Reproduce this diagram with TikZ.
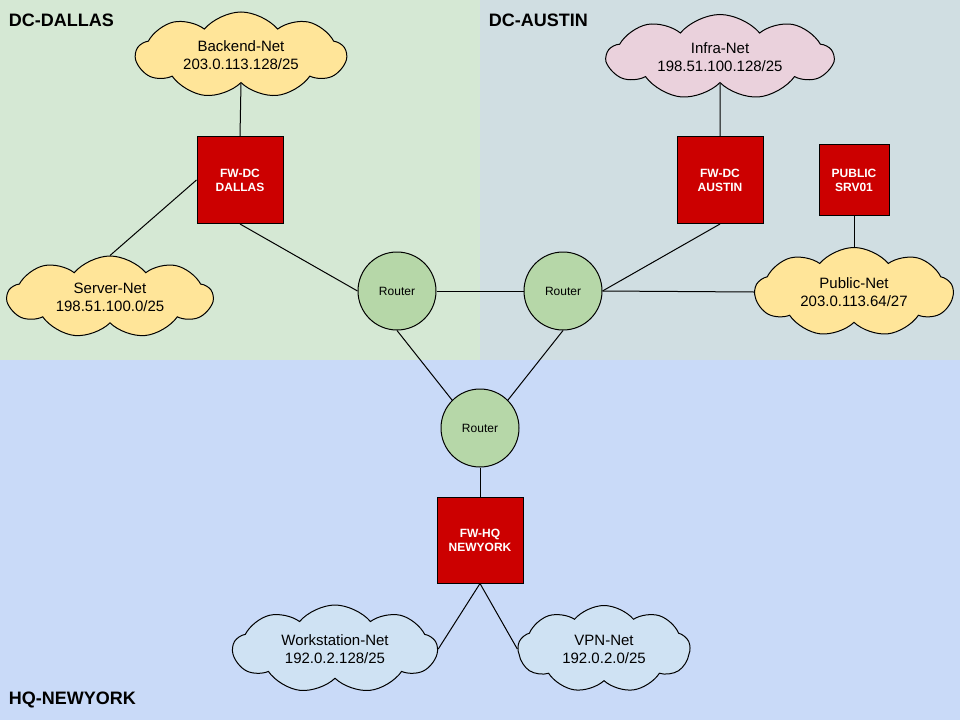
\documentclass[tikz,border=0pt]{standalone}
\usepackage{fontspec}
\setmainfont{Liberation Sans}
\usetikzlibrary{shapes.symbols}
\definecolor{dallasbg}{HTML}{D5E8D4}
\definecolor{austinbg}{HTML}{D0DEE2}
\definecolor{hqbg}{HTML}{C9DAF8}
\definecolor{netyellow}{HTML}{FFE599}
\definecolor{netpink}{HTML}{EAD1DC}
\definecolor{netblue}{HTML}{CFE2F3}
\definecolor{rtrgreen}{HTML}{B6D7A8}
\definecolor{fwred}{HTML}{CC0000}

\begin{document}
\begin{tikzpicture}[x=1pt, y=-1pt, line width=1pt,
    site/.style={font=\fontsize{18}{20}\selectfont\bfseries, anchor=west},
    net/.style={cloud, cloud puffs=9, cloud puff arc=100, cloud ignores aspect, draw, inner sep=0pt,
                align=center, font=\fontsize{15}{18}\selectfont},
    fw/.style={draw, fill=fwred, text=white, align=center, inner sep=0pt,
               font=\fontsize{12}{14}\selectfont\bfseries},
    rtr/.style={circle, draw, fill=rtrgreen, minimum size=78pt, inner sep=0pt,
                font=\fontsize{12}{14}\selectfont}]
    \useasboundingbox (0,0) rectangle (960,720);
    % sites
    \fill[dallasbg] (0,0) rectangle (480,360);
    \fill[austinbg] (480,0) rectangle (960,360);
    \fill[hqbg] (0,360) rectangle (960,720);
    \node[site] (dallas) at (5,20) {DC-DALLAS};
    \node[site] (austin) at (485,20) {DC-AUSTIN};
    \node[site] (newyork) at (5,700) {HQ-NEWYORK};

    % networks
    \node[net, fill=netyellow, minimum width=210pt, minimum height=86pt] (backend) at (241,55) {Backend-Net\\203.0.113.128/25};
    \node[net, fill=netyellow, minimum width=205pt, minimum height=82pt] (servernet) at (110,297) {Server-Net\\198.51.100.0/25};
    \node[net, fill=netpink, minimum width=226pt, minimum height=85pt] (infra) at (720,57) {Infra-Net\\198.51.100.128/25};
    \node[net, fill=netyellow, minimum width=198pt, minimum height=89pt] (public) at (854,292) {Public-Net\\203.0.113.64/27};
    \node[net, fill=netblue, minimum width=204pt, minimum height=88pt] (wsnet) at (335,649) {Workstation-Net\\192.0.2.128/25};
    \node[net, fill=netblue, minimum width=172pt, minimum height=87pt] (vpnnet) at (604,649) {VPN-Net\\192.0.2.0/25};

    % firewalls and servers
    \node[fw, minimum width=86pt, minimum height=87pt] (fwdallas) at (240,180) {FW-DC\\DALLAS};
    \node[fw, minimum width=86pt, minimum height=87pt] (fwaustin) at (720,180) {FW-DC\\AUSTIN};
    \node[fw, minimum width=70pt, minimum height=71pt] (pubsrv) at (854,180) {PUBLIC\\SRV01};
    \node[fw, minimum width=86pt, minimum height=86pt] (fwnewyork) at (480,540) {FW-HQ\\NEWYORK};

    % routers
    \node[rtr] (rtrdallas) at (397,291) {Router};
    \node[rtr] (rtraustin) at (563,291) {Router};
    \node[rtr] (rtrnewyork) at (480,428) {Router};

    % links
    \draw (backend.south) -- (fwdallas.north);
    \draw (fwdallas.west) -- (servernet.north);
    \draw (fwdallas.south) -- (rtrdallas.west);
    \draw (infra.south) -- (fwaustin.north);
    \draw (fwaustin.south) -- (rtraustin.east);
    \draw (pubsrv.south) -- (public.north);
    \draw (rtraustin.east) -- (public.west);
    \draw (rtrdallas.east) -- (rtraustin.west);
    \draw (rtrdallas.south) -- (rtrnewyork.north west);
    \draw (rtraustin.south) -- (rtrnewyork.north east);
    \draw (rtrnewyork.south) -- (fwnewyork.north);
    \draw (fwnewyork.south) -- (wsnet.east);
    \draw (fwnewyork.south) -- (vpnnet.west);
\end{tikzpicture}
\end{document}
